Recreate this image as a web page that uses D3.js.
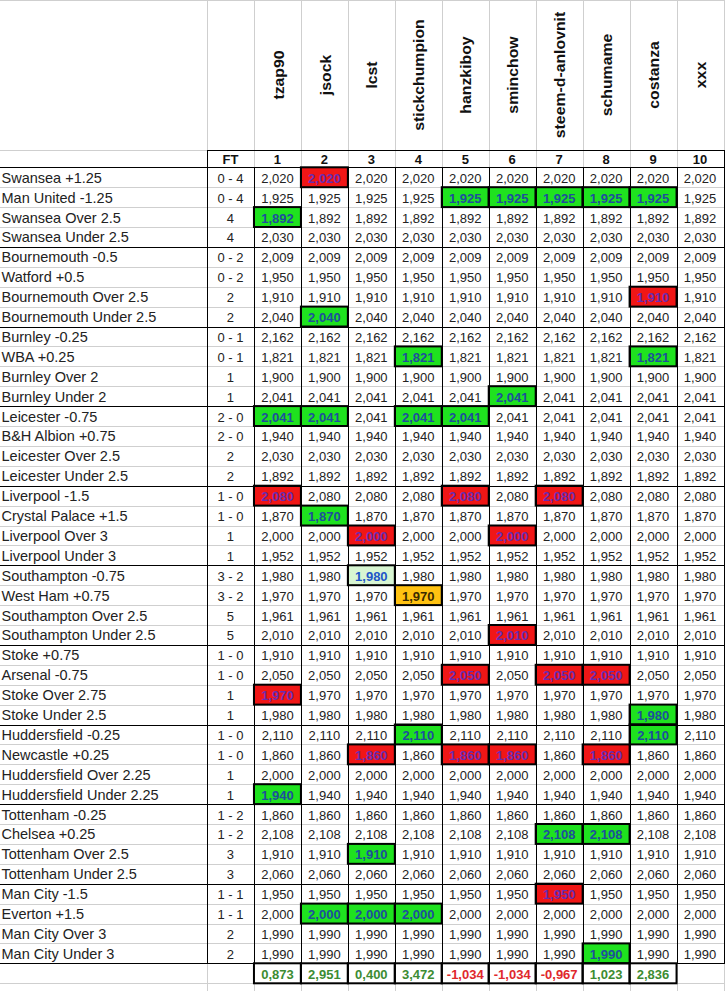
<!DOCTYPE html>
<html>
<head>
<meta charset="utf-8">
<script src="https://cdn.jsdelivr.net/npm/d3@7"></script>
<style>
  body { margin: 0; background: #fff; }
  svg text { font-family: "Liberation Sans", Arial, sans-serif; }
</style>
</head>
<body>
<svg id="sheet"></svg>
<script>
// ---- data ----
const players = ["tzap90", "jsock", "lcst", "stickchumpion", "hanzkiboy", "sminchow",
  "steem-d-anlovnit", "schumame", "costanza", "xxx"];

const markets = ["Swansea +1.25", "Man United -1.25", "Swansea Over 2.5", "Swansea Under 2.5",
  "Bournemouth -0.5", "Watford +0.5", "Bournemouth Over 2.5", "Bournemouth Under 2.5",
  "Burnley -0.25", "WBA +0.25", "Burnley Over 2", "Burnley Under 2",
  "Leicester -0.75", "B&H Albion +0.75", "Leicester Over 2.5", "Leicester Under 2.5",
  "Liverpool -1.5", "Crystal Palace +1.5", "Liverpool Over 3", "Liverpool Under 3",
  "Southampton -0.75", "West Ham +0.75", "Southampton Over 2.5", "Southampton Under 2.5",
  "Stoke +0.75", "Arsenal -0.75", "Stoke Over 2.75", "Stoke Under 2.5",
  "Huddersfield -0.25", "Newcastle +0.25", "Huddersfield Over 2.25", "Huddersfield Under 2.25",
  "Tottenham -0.25", "Chelsea +0.25", "Tottenham Over 2.5", "Tottenham Under 2.5",
  "Man City -1.5", "Everton +1.5", "Man City Over 3", "Man City Under 3"];

const results = ["0 - 4", "0 - 4", "4", "4", "0 - 2", "0 - 2", "2", "2",
  "0 - 1", "0 - 1", "1", "1", "2 - 0", "2 - 0", "2", "2",
  "1 - 0", "1 - 0", "1", "1", "3 - 2", "3 - 2", "5", "5",
  "1 - 0", "1 - 0", "1", "1", "1 - 0", "1 - 0", "1", "1",
  "1 - 2", "1 - 2", "3", "3", "1 - 1", "1 - 1", "2", "2"];

const odds = [2.020, 1.925, 1.892, 2.030, 2.009, 1.950, 1.910, 2.040,
  2.162, 1.821, 1.900, 2.041, 2.041, 1.940, 2.030, 1.892,
  2.080, 1.870, 2.000, 1.952, 1.980, 1.970, 1.961, 2.010,
  1.910, 2.050, 1.970, 1.980, 2.110, 1.860, 2.000, 1.940,
  1.860, 2.108, 1.910, 2.060, 1.950, 2.000, 1.990, 1.990];

// one char per player: G won, R lost, L pale green, O orange, - no pick
const marks = ["-R--------", "----GGGGG-", "G---------", "----------",
  "----------", "----------", "--------R-", "-G--------",
  "----------", "---G----G-", "----------", "-----G----",
  "GG-GG-----", "----------", "----------", "----------",
  "R---R-R---", "-G--------", "--R--R----", "----------",
  "--L-------", "---O------", "----------", "-----R----",
  "----------", "----R-RR--", "R---------", "--------G-",
  "---G----G-", "--R-RR-R--", "----------", "G---------",
  "----------", "------GG--", "--G-------", "----------",
  "------R---", "-GGG------", "----------", "-------G--"];

const totals = [0.873, 2.951, 0.400, 3.472, -1.034, -1.034, -0.967, 1.023, 2.836, null];

// ---- layout ----
const W = 728, H = 991;
const headTop = 0, headBottom = 150, numBottom = 167.3, bodyBottom = 963.3, totalBottom = 983.3;
const gray = "#cfcfcf";

const markStyle = {
  G: { fill: "#1fe21f", text: "#1d4f9c" },
  R: { fill: "#f01616", text: "#6a2bb0" },
  L: { fill: "#d8f6d2", text: "#2255c8" },
  O: { fill: "#ffc211", text: "#3b2a00" }
};

// european style numbers, plain hyphen for negatives
const locale = d3.formatLocale({ decimal: ",", thousands: ".", grouping: [3], currency: ["", ""], minus: "-" });
const fmt = locale.format(".3f");

const svg = d3.select("#sheet").attr("width", W).attr("height", H)
  .style("display", "block");

const x = d3.scaleBand().domain(["FT"].concat(players)).range([207, 723.5]);
const y = d3.scaleBand().domain(d3.range(markets.length)).range([numBottom, bodyBottom]);

const snap = v => Math.round(v) + 0.5;
const colEdges = [207].concat(x.domain().map(d => x(d) + x.bandwidth()));
const rowEdges = d3.range(markets.length + 1).map(i => i < markets.length ? y(i) : bodyBottom);

// gray spreadsheet grid
const grid = svg.append("g").attr("shape-rendering", "crispEdges").attr("stroke", gray);
grid.selectAll("line.v").data(colEdges).join("line")
  .attr("x1", d => snap(d)).attr("x2", d => snap(d)).attr("y1", 0).attr("y2", H);
grid.selectAll("line.h").data([headTop, headBottom, numBottom, totalBottom].concat(rowEdges)).join("line")
  .attr("x1", 0).attr("x2", 723.5).attr("y1", d => snap(d)).attr("y2", d => snap(d));

// flat list of cells
const cells = [];
markets.forEach((m, i) => players.forEach((p, j) => {
  cells.push({ row: i, player: p, value: odds[i], mark: marks[i][j] });
}));
const picked = cells.filter(d => d.mark !== "-");

// highlight fills
svg.append("g").selectAll("rect").data(picked).join("rect")
  .attr("x", d => x(d.player)).attr("y", d => y(d.row))
  .attr("width", x.bandwidth()).attr("height", y.bandwidth())
  .attr("fill", d => markStyle[d.mark].fill);

// black borders of the table body
const black = svg.append("g").attr("shape-rendering", "crispEdges").attr("stroke", "#000");
black.selectAll("line.v").data(colEdges).join("line")
  .attr("x1", d => snap(d)).attr("x2", d => snap(d))
  .attr("y1", snap(numBottom)).attr("y2", snap(bodyBottom));
const groupEdges = [numBottom].concat(rowEdges.filter((d, i) => i > 0 && i % 4 === 0));
black.selectAll("line.h").data(groupEdges).join("line")
  .attr("x1", 0).attr("x2", snap(723.5)).attr("y1", d => snap(d)).attr("y2", d => snap(d));
// FT / number row box
black.append("rect")
  .attr("x", snap(207)).attr("y", snap(headBottom))
  .attr("width", snap(723.5) - snap(207)).attr("height", snap(numBottom) - snap(headBottom))
  .attr("fill", "none");

// highlight borders
svg.append("g").selectAll("rect").data(picked).join("rect")
  .attr("x", d => x(d.player)).attr("y", d => y(d.row))
  .attr("width", x.bandwidth()).attr("height", y.bandwidth())
  .attr("fill", "none").attr("stroke", "#000").attr("stroke-width", 2);

// totals boxes
const totalCells = players.map((p, j) => ({ player: p, value: totals[j] })).filter(d => d.value !== null);
svg.append("g").selectAll("rect").data(totalCells).join("rect")
  .attr("x", d => x(d.player)).attr("y", bodyBottom)
  .attr("width", x.bandwidth()).attr("height", totalBottom - bodyBottom)
  .attr("fill", "none").attr("stroke", "#000").attr("stroke-width", 2);

// rotated player names
svg.append("g").selectAll("text").data(players).join("text")
  .attr("transform", d => `translate(${x(d) + x.bandwidth() / 2 + 1},75) rotate(-90) scale(1.13,1)`)
  .attr("text-anchor", "middle").attr("dominant-baseline", "central")
  .style("font-size", "14px").style("font-weight", "bold").attr("fill", "#111")
  .text(d => d);

// FT + column numbers
svg.append("g").selectAll("text").data(x.domain()).join("text")
  .attr("x", d => x(d) + x.bandwidth() / 2).attr("y", headBottom + 13.6)
  .attr("text-anchor", "middle")
  .style("font-size", "13px").style("font-weight", "bold").attr("fill", "#111")
  .text((d, i) => i === 0 ? "FT" : i);

// market labels
svg.append("g").selectAll("text").data(markets).join("text")
  .attr("x", 1.5).attr("y", (d, i) => y(i) + 15.4)
  .style("font-size", "14.5px").attr("fill", "#222")
  .text(d => d);

// full-time results
svg.append("g").selectAll("text").data(results).join("text")
  .attr("x", x("FT") + x.bandwidth() / 2).attr("y", (d, i) => y(i) + 15.4)
  .attr("text-anchor", "middle")
  .style("font-size", "13px").attr("fill", "#222")
  .text(d => d);

// odds
svg.append("g").selectAll("text").data(cells).join("text")
  .attr("x", d => x(d.player) + x.bandwidth() / 2).attr("y", d => y(d.row) + 15.4)
  .attr("text-anchor", "middle")
  .style("font-size", "13px")
  .style("font-weight", d => d.mark === "-" ? "normal" : "bold")
  .attr("fill", d => d.mark === "-" ? "#222" : markStyle[d.mark].text)
  .text(d => fmt(d.value));

// totals
svg.append("g").selectAll("text").data(totalCells).join("text")
  .attr("x", d => x(d.player) + x.bandwidth() / 2).attr("y", bodyBottom + 15.2)
  .attr("text-anchor", "middle")
  .style("font-size", "13px").style("font-weight", "bold")
  .attr("fill", d => d.value < 0 ? "#e0282c" : "#3c8c32")
  .text(d => fmt(d.value));
</script>
</body>
</html>
